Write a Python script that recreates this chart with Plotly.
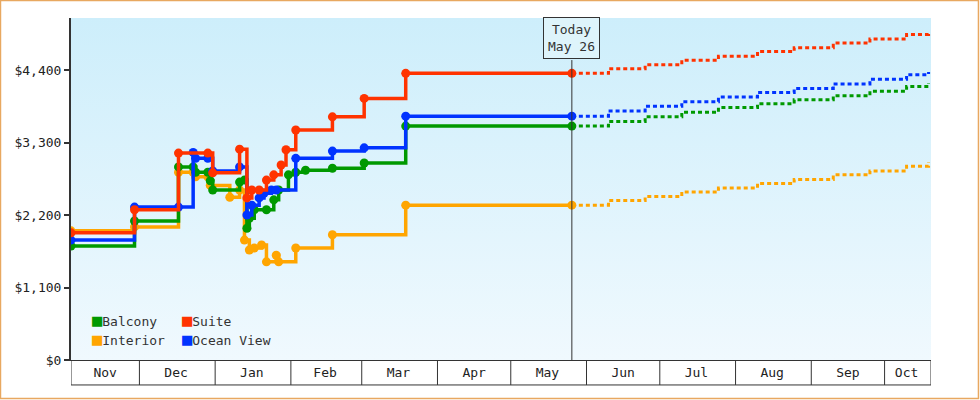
import plotly.graph_objects as go
from datetime import date

# ---------------- data ----------------
suite_dates = ["2023-11-03","2023-11-29","2023-12-17","2023-12-29","2023-12-31","2024-01-11","2024-01-14","2024-01-16","2024-01-19","2024-01-22","2024-01-25","2024-01-28","2024-01-30","2024-02-03","2024-02-18","2024-03-02","2024-03-19","2024-05-26"]
suite_vals  = [1930,2280,3140,3140,2840,3200,2460,2580,2580,2730,2810,2960,3190,3490,3690,3970,4350,4350]

ocean_dates = ["2023-11-03","2023-11-29","2023-12-17","2023-12-23","2023-12-24","2023-12-29","2023-12-31","2024-01-11","2024-01-14","2024-01-16","2024-01-19","2024-01-21","2024-01-24","2024-01-26","2024-02-03","2024-02-18","2024-03-02","2024-03-19","2024-05-26"]
ocean_vals  = [1820,2320,2320,3150,3060,3060,2870,2930,2200,2350,2460,2530,2580,2580,3060,3170,3220,3700,3700]

balc_dates = ["2023-11-03","2023-11-29","2023-12-17","2023-12-23","2023-12-24","2023-12-29","2023-12-30","2023-12-31","2024-01-11","2024-01-13","2024-01-14","2024-01-15","2024-01-17","2024-01-22","2024-01-25","2024-01-27","2024-01-31","2024-02-03","2024-02-07","2024-02-18","2024-03-02","2024-03-19","2024-05-26"]
balc_vals  = [1730,2110,2930,2930,2850,2850,2720,2580,2700,2730,2000,2150,2280,2280,2430,2580,2810,2850,2880,2910,2990,3550,3550]

int_dates = ["2023-11-03","2023-11-29","2023-12-17","2023-12-23","2023-12-24","2023-12-29","2023-12-30","2024-01-07","2024-01-11","2024-01-13","2024-01-15","2024-01-17","2024-01-20","2024-01-22","2024-01-26","2024-01-27","2024-02-03","2024-02-18","2024-03-19","2024-05-26"]
int_vals  = [1960,2020,2850,2850,2780,2780,2650,2470,2580,1820,1670,1700,1745,1490,1590,1490,1700,1900,2350,2350]

fc_dates = ["2024-05-26","2024-06-10","2024-06-25","2024-07-10","2024-07-25","2024-08-10","2024-08-25","2024-09-10","2024-09-25","2024-10-10","2024-10-19"]
fc_suite = [4350,4420,4480,4550,4610,4680,4740,4810,4870,4940,4990]
fc_ocean = [3700,3780,3850,3920,3990,4060,4120,4190,4260,4330,4370]
fc_balc  = [3550,3620,3690,3760,3830,3890,3950,4010,4080,4150,4200]
fc_int   = [2350,2420,2480,2550,2610,2680,2740,2810,2870,2940,3000]

months = ["Nov","Dec","Jan","Feb","Mar","Apr","May","Jun","Jul","Aug","Sep","Oct"]
month_starts = ["2023-11-03","2023-12-01","2024-01-01","2024-02-01","2024-03-01","2024-04-01","2024-05-01","2024-06-01","2024-07-01","2024-08-01","2024-09-01","2024-10-01","2024-10-20"]
y_ticks = [0,1100,2200,3300,4400]
y_labels = ["$0","$1,100","$2,200","$3,300","$4,400"]
today = "2024-05-26"

GREEN, RED, ORANGE, BLUE = "#009900", "#ff3300", "#ffa500", "#0033ff"
FONT = "DejaVu Sans Mono"

fig = go.Figure()
fig.add_trace(go.Scatter(x=[month_starts[0], month_starts[-1]], y=[5200,5200], fill="tozeroy",
    mode="none", fillgradient=dict(type="vertical", colorscale=[[0,"#f0f9fe"],[1,"#cdeefb"]]),
    hoverinfo="skip", showlegend=False))

for d, v, fd, fv, c in [(int_dates,int_vals,fc_dates,fc_int,ORANGE),
                        (balc_dates,balc_vals,fc_dates,fc_balc,GREEN),
                        (ocean_dates,ocean_vals,fc_dates,fc_ocean,BLUE),
                        (suite_dates,suite_vals,fc_dates,fc_suite,RED)]:
    fig.add_trace(go.Scatter(x=fd, y=fv, mode="lines", line=dict(color=c, width=3, dash="4px,3px", shape="hv"), showlegend=False))
    fig.add_trace(go.Scatter(x=d, y=v, mode="lines+markers", line=dict(color=c, width=3.5, shape="hv"),
                             marker=dict(symbol="circle", size=9, color=c), showlegend=False))

mids = []
for i in range(len(months)):
    a = date.fromisoformat(month_starts[i]); b = date.fromisoformat(month_starts[i+1])
    mids.append((a + (b-a)/2).isoformat())

shapes = []
for ms in month_starts:
    shapes.append(dict(type="line", xref="x", yref="paper", x0=ms, x1=ms, y0=0, y1=-0.073, line=dict(color="#333", width=1)))
shapes.append(dict(type="line", xref="paper", yref="paper", x0=0, x1=1, y0=-0.073, y1=-0.073, line=dict(color="#333", width=1)))
shapes.append(dict(type="line", xref="x", yref="paper", x0=today, x1=today, y0=0, y1=0.877, line=dict(color="#333", width=1)))
shapes.append(dict(type="rect", xref="paper", yref="paper", x0=-0.0820, x1=1.0552, y0=-0.1125, y1=1.0510, line=dict(color="#e8a860", width=1.5)))

annotations = [dict(x=today, y=0.88, xref="x", yref="paper", yanchor="bottom", text="Today<br>May 26", showarrow=False,
                    bgcolor="#def4fb", bordercolor="#333", borderwidth=1, borderpad=4, font=dict(family=FONT, size=13, color="#333"))]
leg = [("Balcony",GREEN,0.022,0.118),("Suite",RED,0.127,0.118),("Interior",ORANGE,0.022,0.060),("Ocean View",BLUE,0.127,0.060)]
for t,c,x,y in leg:
    annotations.append(dict(x=x, y=y, xref="paper", yref="paper", xanchor="left", yanchor="middle", showarrow=False,
                            text=f"<span style='color:{c};font-size:17px'>■</span>{t}", font=dict(family=FONT, size=13, color="#333")))

fig.update_layout(width=980, height=400, margin=dict(l=71, r=49, t=18, b=40),
    paper_bgcolor="white", plot_bgcolor="white", shapes=shapes, annotations=annotations,
    font=dict(family=FONT, size=13, color="#222"),
    xaxis=dict(type="date", range=[month_starts[0], month_starts[-1]], tickvals=mids, ticktext=months, automargin=False,
               ticks="", showgrid=False, zeroline=False, showline=True, linecolor="#333", linewidth=1),
    yaxis=dict(range=[0,5190], tickvals=y_ticks, ticktext=y_labels, ticks="outside", ticklen=5, tickwidth=2, automargin=False,
               tickcolor="#333", showgrid=False, zeroline=False, showline=True, linecolor="#333", linewidth=2))
fig.write_html("out.html", config={"displayModeBar": False}, post_script="document.body.style.margin='0';")
